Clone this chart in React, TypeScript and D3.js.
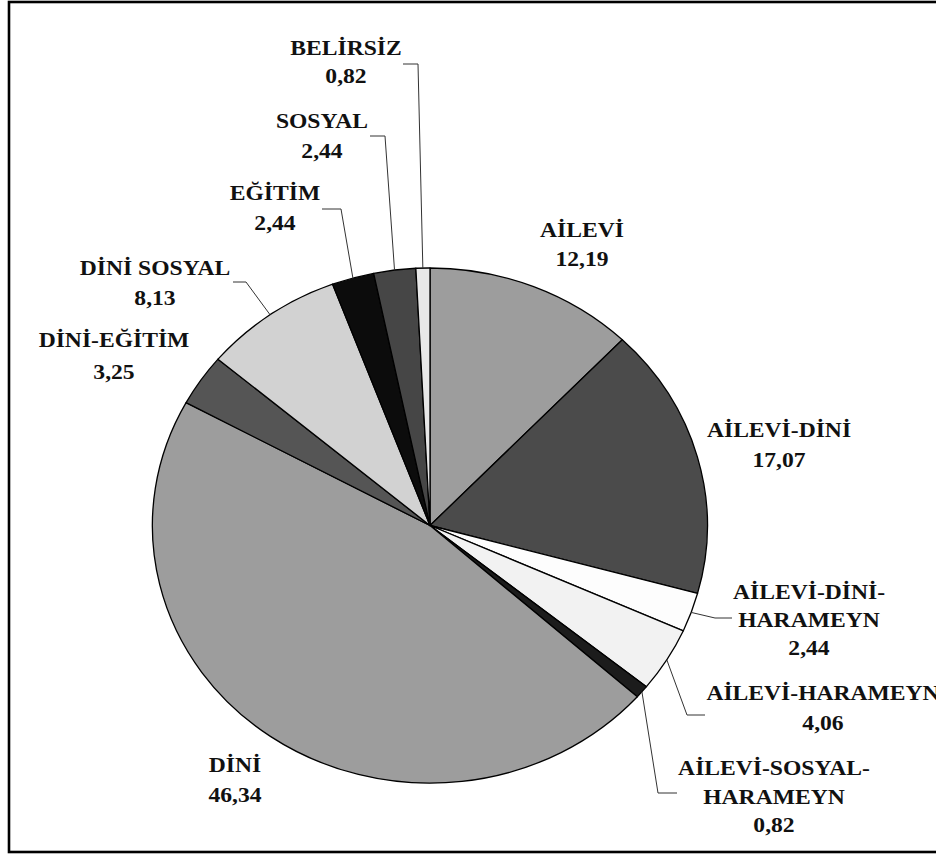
import React from "react";
import * as d3 from "d3";

const categories = [
  "AİLEVİ",
  "AİLEVİ-DİNİ",
  "AİLEVİ-DİNİ-HARAMEYN",
  "AİLEVİ-HARAMEYN",
  "AİLEVİ-SOSYAL-HARAMEYN",
  "DİNİ",
  "DİNİ-EĞİTİM",
  "DİNİ SOSYAL",
  "EĞİTİM",
  "SOSYAL",
  "BELİRSİZ",
];
const values = [12.19, 17.07, 2.44, 4.06, 0.82, 46.34, 3.25, 8.13, 2.44, 2.44, 0.82];
const colors = [
  "#9d9d9d",
  "#4b4b4b",
  "#fdfdfd",
  "#f2f2f2",
  "#1c1c1c",
  "#9d9d9d",
  "#555555",
  "#d2d2d2",
  "#0c0c0c",
  "#464646",
  "#e8e8e8",
];

// label layout (page coordinates): center x, line center ys, optional leader elbow/end, wrap at last hyphen
type LabelLayout = { x: number; ys: number[]; elbow?: [number, number]; end?: [number, number]; wrap?: boolean };
const labelLayout: LabelLayout[] = [
  { x: 582, ys: [230, 259] },
  { x: 779, ys: [430, 460] },
  { x: 809, ys: [592, 620, 648], elbow: [715, 618], end: [732, 618], wrap: true },
  { x: 823, ys: [693, 723], elbow: [687, 715], end: [705, 715] },
  { x: 774, ys: [768, 797, 825], elbow: [658, 793], end: [677, 793], wrap: true },
  { x: 235, ys: [765, 795] },
  { x: 114, ys: [340, 372] },
  { x: 155, ys: [268, 298], elbow: [246, 282], end: [233, 282] },
  { x: 275, ys: [193, 223], elbow: [341, 209], end: [322, 209] },
  { x: 322, ys: [121, 151], elbow: [385, 136], end: [370, 136] },
  { x: 346, ys: [48, 76], elbow: [418, 64], end: [403, 64] },
];

const W = 936;
const H = 854;
const CX = 430;
const CY = 525.5;
const RX = 277.5;
const RY = 257.5;
const FONT = "'Liberation Serif', 'Times New Roman', serif";
const FS = 20;
const SX = 1.18;

function fmt(v: number) {
  return v.toFixed(2).replace(".", ",");
}

function nameLines(name: string, wrap?: boolean) {
  if (!wrap) return [name];
  const i = name.lastIndexOf("-");
  return [name.slice(0, i + 1), name.slice(i + 1)];
}

export default function App() {
  const pie = d3
    .pie<number>()
    .sort(null)
    .value((d) => d)
    .startAngle(0)
    .endAngle(2 * Math.PI);
  const arcs = pie(values);
  const arc = d3.arc<d3.PieArcDatum<number>>().innerRadius(0).outerRadius(1);

  return (
    <svg
      width={W}
      height={H}
      style={{ position: "absolute", left: 0, top: 0, background: "#fff" }}
    >
      <rect x={9} y={2} width={W + 20} height={H - 4} fill="#fff" stroke="#000" strokeWidth={2.6} />
      <g transform={`translate(${CX},${CY}) scale(${RX},${RY})`}>
        {arcs.map((a, i) => (
          <path
            key={i}
            d={arc(a) || ""}
            fill={colors[i]}
            stroke="#000"
            strokeWidth={1.3}
            vectorEffect="non-scaling-stroke"
            strokeLinejoin="round"
          />
        ))}
      </g>
      {arcs.map((a, i) => {
        const L = labelLayout[i];
        if (!L.elbow || !L.end) return null;
        const mid = (a.startAngle + a.endAngle) / 2;
        const sx = CX + RX * Math.sin(mid);
        const sy = CY - RY * Math.cos(mid);
        const pts: [number, number][] = [[sx, sy], L.elbow, L.end];
        return (
          <path
            key={"l" + i}
            d={d3.line()(pts) || ""}
            fill="none"
            stroke="#333"
            strokeWidth={1}
          />
        );
      })}
      {categories.map((c, i) => {
        const L = labelLayout[i];
        const lines = [...nameLines(c, L.wrap), fmt(values[i])];
        return (
          <g key={"t" + i}>
            {lines.map((t, j) => (
              <text
                key={j}
                transform={`translate(${L.x},${L.ys[j] + FS * 0.33}) scale(${SX},1)`}
                textAnchor="middle"
                fontFamily={FONT}
                fontWeight="bold"
                fontSize={FS}
                fill="#111"
              >
                {t}
              </text>
            ))}
          </g>
        );
      })}
    </svg>
  );
}
